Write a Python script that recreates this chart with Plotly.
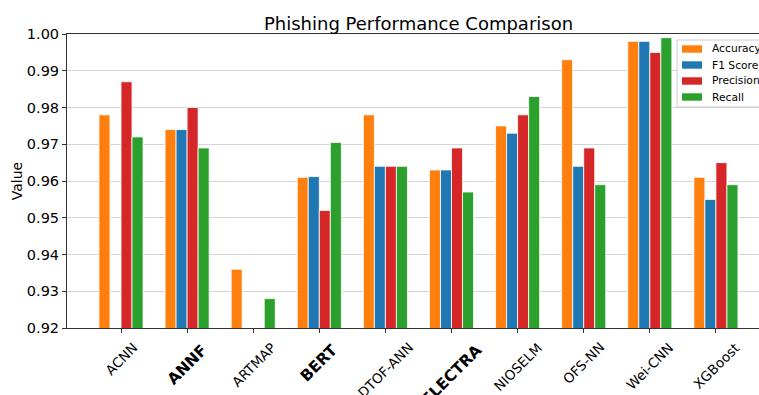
import plotly.graph_objects as go

# Model names along the x axis; the ones in BOLD_MODELS get a heavier label
models = ["ACNN", "ANNF", "ARTMAP", "BERT", "DTOF-ANN", "ELECTRA",
          "NIOSELM", "OFS-NN", "Wei-CNN", "XGBoost"]
bold_models = {"ANNF", "BERT", "ELECTRA"}

# Metric values per model (None = not reported)
accuracy = [0.978, 0.974, 0.936, 0.961, 0.978, 0.963, 0.975, 0.993, 0.998, 0.961]
f1_score = [None, 0.974, None, 0.9612, 0.964, 0.963, 0.973, 0.964, 0.998, 0.955]
precision = [0.987, 0.980, None, 0.952, 0.964, 0.969, 0.978, 0.969, 0.995, 0.965]
recall = [0.972, 0.969, 0.928, 0.9705, 0.964, 0.957, 0.983, 0.959, 0.999, 0.959]

y_ticks = [0.92, 0.93, 0.94, 0.95, 0.96, 0.97, 0.98, 0.99, 1.00]

series = [
    ("Accuracy", accuracy, "#ff7f0e"),
    ("F1 Score", f1_score, "#1f77b4"),
    ("Precision", precision, "#d62728"),
    ("Recall", recall, "#2ca02c"),
]

FONT = "DejaVu Sans"
AXIS_COLOR = "#333333"

W, H = 759, 395
M_L, M_R, M_T, M_B = 67, 0, 34, 67
PLOT_W, PLOT_H = W - M_L - M_R, H - M_T - M_B


def px_to_paper(px, py):
    """Convert a pixel position on the page to paper coordinates."""
    return (px - M_L) / PLOT_W, (H - M_B - py) / PLOT_H


fig = go.Figure()
for name, vals, color in series:
    fig.add_trace(go.Bar(
        x=models, y=vals, name=name, showlegend=False,
        marker=dict(color=color, line=dict(color="rgba(255,255,255,0.8)", width=1)),
    ))

# Rotated category labels, centred under each tick
for m in models:
    bold = m in bold_models
    fig.add_annotation(
        x=m, xref="x", y=-0.034 if not bold else -0.040, yref="paper",
        text=f"<b>{m}</b>" if bold else m,
        textangle=-45, showarrow=False,
        xanchor="center", yanchor="top", borderpad=0,
        font=dict(family=FONT, size=15.5 if bold else 13.5, color="#000000"),
    )

# Legend box in the upper-right corner, running off the right edge
bx0, by0 = px_to_paper(677, 40)
bx1, by1 = px_to_paper(800, 107)
fig.add_shape(type="rect", xref="paper", yref="paper",
              x0=bx0, x1=bx1, y0=by1, y1=by0, layer="above",
              fillcolor="rgba(255,255,255,0.8)",
              line=dict(color="#cccccc", width=1))
for i, (name, _, color) in enumerate(series):
    cy = 49 + 16 * i
    sx0, sy0 = px_to_paper(682, cy - 3.7)
    sx1, sy1 = px_to_paper(702, cy + 3.7)
    fig.add_shape(type="rect", xref="paper", yref="paper",
                  x0=sx0, x1=sx1, y0=sy1, y1=sy0, layer="above",
                  fillcolor=color, line=dict(width=0))
    tx, ty = px_to_paper(711, cy)
    fig.add_annotation(x=tx, y=ty, xref="paper", yref="paper", text=name,
                       showarrow=False, xanchor="left", yanchor="middle",
                       borderpad=0,
                       font=dict(family=FONT, size=10.7, color="#000000"))

fig.update_layout(
    width=W, height=H,
    margin=dict(l=M_L, r=M_R, t=M_T, b=M_B, autoexpand=False),
    paper_bgcolor="white", plot_bgcolor="white",
    font=dict(family=FONT, color="#000000"),
    title=dict(text="Phishing Performance Comparison",
               xref="container", x=0.5514, xanchor="center",
               y=0.9405, yanchor="middle",
               font=dict(family=FONT, size=18, color="#000000")),
    barmode="group", bargap=0.333, bargroupgap=0.0,
    showlegend=False,
)

fig.update_xaxes(
    type="category", range=[-0.817, 9.652],
    showticklabels=False, ticks="outside", ticklen=4, tickcolor=AXIS_COLOR,
    showgrid=False, showline=True, linecolor=AXIS_COLOR, linewidth=1, mirror=True,
    zeroline=False,
)
fig.update_yaxes(
    range=[0.92, 1.00], tickvals=y_ticks, tickformat=".2f",
    ticks="outside", ticklen=4, tickcolor=AXIS_COLOR,
    tickfont=dict(family=FONT, size=14.5, color="#000000"),
    showgrid=True, gridcolor="#d6d6d6", gridwidth=1.3,
    showline=True, linecolor=AXIS_COLOR, linewidth=1, mirror=True, zeroline=False,
    automargin=False,
    title=dict(text="Value", font=dict(family=FONT, size=14, color="#000000"), standoff=0),
)

fig.write_html("out.html")
